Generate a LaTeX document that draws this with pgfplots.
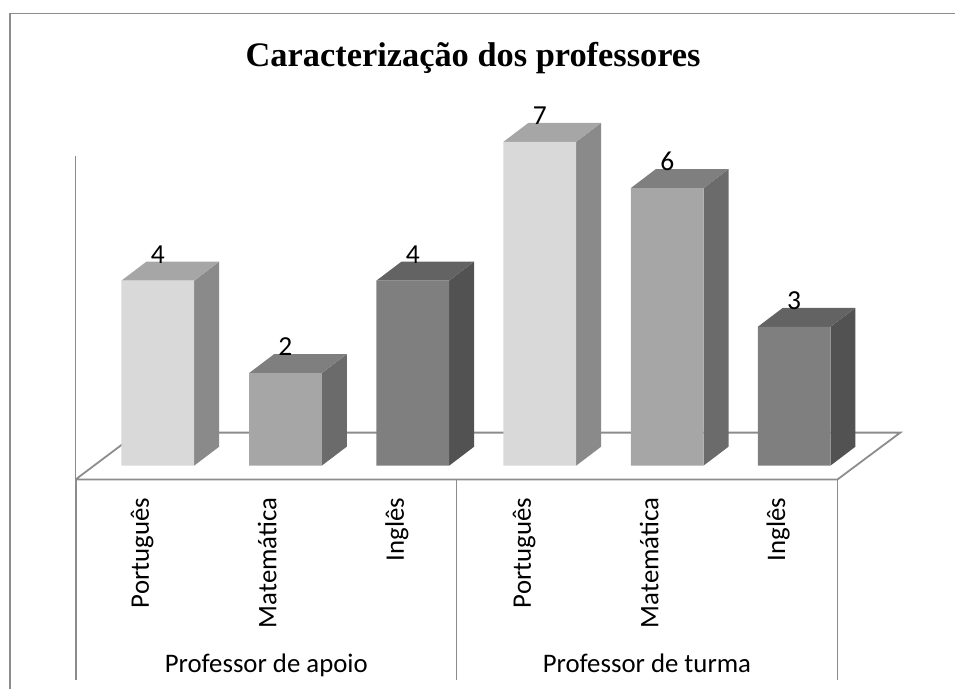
\documentclass[border=0pt]{standalone}
\usepackage{fontspec}
\setmainfont{Carlito}
\newfontfamily\titlefont{Liberation Serif}
\usepackage{pgfplots}
\pgfplotsset{compat=1.18}
\definecolor{linegray}{HTML}{8C8C8C}
\definecolor{lightF}{HTML}{D9D9D9}
\definecolor{lightT}{HTML}{A6A6A6}
\definecolor{lightS}{HTML}{8A8A8A}
\definecolor{midF}{HTML}{A6A6A6}
\definecolor{midT}{HTML}{7F7F7F}
\definecolor{midS}{HTML}{6B6B6B}
\definecolor{darkF}{HTML}{7F7F7F}
\definecolor{darkT}{HTML}{636363}
\definecolor{darkS}{HTML}{525252}
\begin{document}
\begin{tikzpicture}
\begin{axis}[
  scale only axis,
  width=956pt, height=690pt,
  xmin=0, xmax=956,
  ymin=-4.838, ymax=10.065,
  clip=false,
  axis y line=none,
  axis x line=middle,
  x axis line style={draw=none,-},
  major tick length=0pt,
  ytick=\empty,
  xtick={158,285.7,413.2,540.3,667.8,794.8},
  xticklabels={Português,Matemática,Inglês,Português,Matemática,Inglês},
  xticklabel style={font=\fontsize{26.8}{26.8}\selectfont, inner sep=0pt, xshift=-9pt, yshift=-32pt, rotate=90, anchor=base east},
  every axis plot/.append style={line cap=butt},
  /pgf/number format/assume math mode=true,
]
\path (rel axis cs:0,0) rectangle (rel axis cs:1,1);

% outer frame
\addplot[sharp plot, no marks, linegray, line width=1.6pt] coordinates {(10,-4.838) (10,9.77) (956,9.77)};
% wall and floor
\addplot[sharp plot, no marks, linegray, line width=1.8pt] coordinates {(75.5,6.695) (75.5,-0.302)};
\addplot[sharp plot, no marks, linegray, line width=1.8pt] coordinates {(75.5,-0.302) (138,0.713) (901,0.713) (838,-0.302) (75.5,-0.302)};
% separators under the floor
\addplot[sharp plot, no marks, linegray, line width=1.6pt] coordinates {(76,-0.302) (76,-4.644)};
\addplot[sharp plot, no marks, linegray, line width=1.6pt] coordinates {(457,-0.302) (457,-4.644)};
\addplot[sharp plot, no marks, linegray, line width=1.6pt] coordinates {(838,-0.302) (838,-4.644)};

% side faces
\addplot[sharp plot, no marks, draw=none, fill=lightS] coordinates {(194.4,0) (219.4,0.41) (219.4,4.41) (194.4,4)} -- cycle;
\addplot[sharp plot, no marks, draw=none, fill=midS] coordinates {(322.1,0) (347.1,0.41) (347.1,2.41) (322.1,2)} -- cycle;
\addplot[sharp plot, no marks, draw=none, fill=darkS] coordinates {(449.6,0) (474.6,0.41) (474.6,4.41) (449.6,4)} -- cycle;
\addplot[sharp plot, no marks, draw=none, fill=lightS] coordinates {(576.7,0) (601.7,0.41) (601.7,7.41) (576.7,7)} -- cycle;
\addplot[sharp plot, no marks, draw=none, fill=midS] coordinates {(704.2,0) (729.2,0.41) (729.2,6.41) (704.2,6)} -- cycle;
\addplot[sharp plot, no marks, draw=none, fill=darkS] coordinates {(831.2,0) (856.2,0.41) (856.2,3.41) (831.2,3)} -- cycle;

% top faces
\addplot[sharp plot, no marks, draw=none, fill=lightT] coordinates {(121.6,4) (146.6,4.41) (219.4,4.41) (194.4,4)} -- cycle;
\addplot[sharp plot, no marks, draw=none, fill=midT] coordinates {(249.3,2) (274.3,2.41) (347.1,2.41) (322.1,2)} -- cycle;
\addplot[sharp plot, no marks, draw=none, fill=darkT] coordinates {(376.8,4) (401.8,4.41) (474.6,4.41) (449.6,4)} -- cycle;
\addplot[sharp plot, no marks, draw=none, fill=lightT] coordinates {(503.9,7) (528.9,7.41) (601.7,7.41) (576.7,7)} -- cycle;
\addplot[sharp plot, no marks, draw=none, fill=midT] coordinates {(631.4,6) (656.4,6.41) (729.2,6.41) (704.2,6)} -- cycle;
\addplot[sharp plot, no marks, draw=none, fill=darkT] coordinates {(758.4,3) (783.4,3.41) (856.2,3.41) (831.2,3)} -- cycle;

% front faces with the values
\pgfplotsset{every node near coord/.append style={font=\fontsize{27.5}{27.5}\selectfont, anchor=base, inner sep=0pt, yshift=17.5pt}}
\addplot[ybar, bar width=72.8, bar shift=0pt, draw=none, fill=lightF, nodes near coords] coordinates {(158,4) (540.3,7)};
\addplot[ybar, bar width=72.8, bar shift=0pt, draw=none, fill=midF, nodes near coords] coordinates {(285.7,2) (667.8,6)};
\addplot[ybar, bar width=72.8, bar shift=0pt, draw=none, fill=darkF, nodes near coords] coordinates {(413.2,4) (794.8,3)};

\node[anchor=base, inner sep=0pt, font=\titlefont\bfseries\fontsize{34.4}{34.4}\selectfont] at (axis cs:473.5,8.63) {Caracterização dos professores};
\node[anchor=base, inner sep=0pt, font=\fontsize{26.8}{26.8}\selectfont] at (axis cs:266.5,-4.47) {Professor de apoio};
\node[anchor=base, inner sep=0pt, font=\fontsize{26.8}{26.8}\selectfont] at (axis cs:647.5,-4.47) {Professor de turma};
\end{axis}
\end{tikzpicture}
\end{document}
